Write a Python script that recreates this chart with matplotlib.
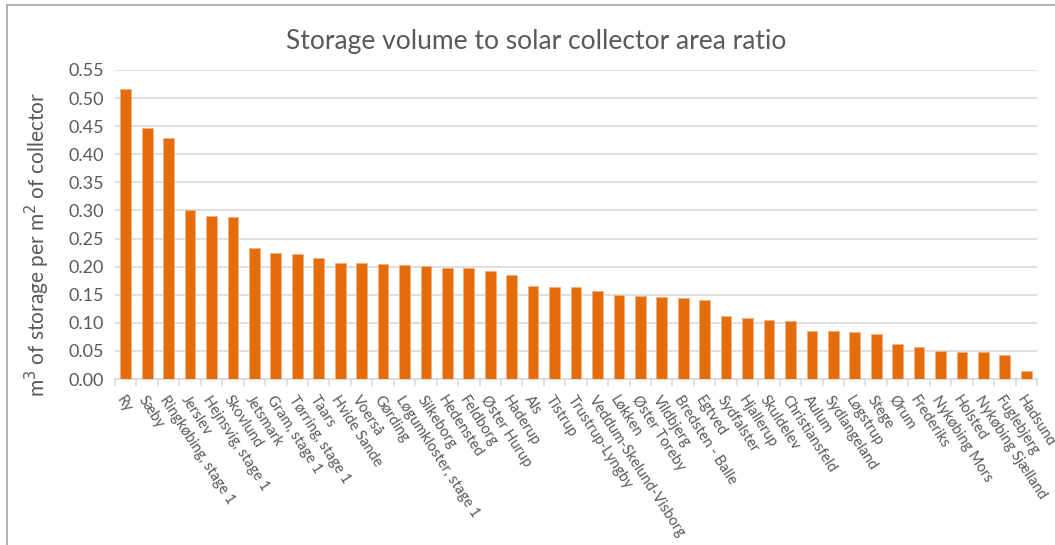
import matplotlib
matplotlib.use('Agg')
import matplotlib.pyplot as plt
import numpy as np

plt.rcParams['font.family'] = ['Lato', 'DejaVu Sans']

plants = ['Ry', 'Sæby', 'Ringkøbing, stage 1', 'Jerslev', 'Hejnsvig, stage 1',
          'Skovlund', 'Jetsmark', 'Gram, stage 1', 'Tørring, stage 1', 'Taars',
          'Hvide Sande', 'Voerså', 'Gørding', 'Løgumkloster, stage 1', 'Silkeborg',
          'Hedensted', 'Feldborg', 'Øster Hurup', 'Haderup', 'Als', 'Tistrup',
          'Trustrup-Lyngby', 'Veddum-Skelund-Visborg', 'Løkken', 'Øster Toreby',
          'Vildbjerg', 'Bredsten - Balle', 'Egtved', 'Sydfalster', 'Hjallerup',
          'Skuldelev', 'Christiansfeld', 'Aulum', 'Sydlangeland', 'Løgstrup',
          'Stege', 'Ørum', 'Frederiks', 'Nykøbing Mors', 'Holsted',
          'Nykøbing Sjælland', 'Fuglebjerg', 'Hadsund']
ratio = [0.516, 0.447, 0.429, 0.300, 0.290, 0.289, 0.234, 0.225, 0.223, 0.216,
         0.206, 0.206, 0.205, 0.203, 0.201, 0.197, 0.197, 0.192, 0.185, 0.166,
         0.164, 0.164, 0.157, 0.150, 0.148, 0.146, 0.144, 0.141, 0.112, 0.108,
         0.105, 0.103, 0.086, 0.086, 0.0835, 0.0805, 0.062, 0.057, 0.050, 0.0485,
         0.0485, 0.043, 0.015]
yticks = np.arange(0, 0.551, 0.05)

grey = '#595959'
fig = plt.figure(figsize=(10.55, 5.45), dpi=100)
ax = fig.add_axes([115 / 1055, 1 - 379 / 545, (1037 - 115) / 1055, (379 - 70) / 545])

x = np.arange(len(plants))
ax.bar(x, ratio, width=0.5, color='#E46C0A', edgecolor='#F4B183', linewidth=0.6, zorder=3)

ax.set_xlim(-0.5, len(plants) - 0.5)
ax.set_ylim(0, 0.55)
ax.set_yticks(yticks)
ax.set_yticklabels(['%.2f' % v for v in yticks], fontsize=13, color=grey)
ax.yaxis.grid(True, color='#D9D9D9', linewidth=1.2, zorder=0)
ax.tick_params(axis='y', length=0, pad=8)

ax.set_xticks(x)
ax.set_xticklabels(plants, rotation=-57, ha='left', rotation_mode='anchor',
                   fontsize=10.5, color=grey)
ax.set_xticks(np.arange(-0.5, len(plants)), minor=True)
ax.tick_params(axis='x', which='major', length=0, pad=10)
ax.tick_params(axis='x', which='minor', length=5, color='#D9D9D9', width=1.2)

for s in ['top', 'right', 'left']:
    ax.spines[s].set_visible(False)
ax.spines['bottom'].set_color('#D9D9D9')
ax.spines['bottom'].set_linewidth(1.2)

ax.set_ylabel('m$^3$ of storage per m$^2$ of collector', fontsize=15, color=grey)
ax.yaxis.set_label_coords(-0.068, 0.434)

fig.text(0.508, 1 - 42 / 545, 'Storage volume to solar collector area ratio',
         ha='center', va='center', fontsize=19, color=grey)

# frame around the chart (only left and top visible in the crop)
fig.add_artist(plt.Line2D([7 / 1055, 7 / 1055], [0, 1 - 5 / 545], color='#A6A6A6', lw=1.2))
fig.add_artist(plt.Line2D([7 / 1055, 1], [1 - 5 / 545, 1 - 5 / 545], color='#A6A6A6', lw=1.2))

fig.savefig('out.png', dpi=100)
